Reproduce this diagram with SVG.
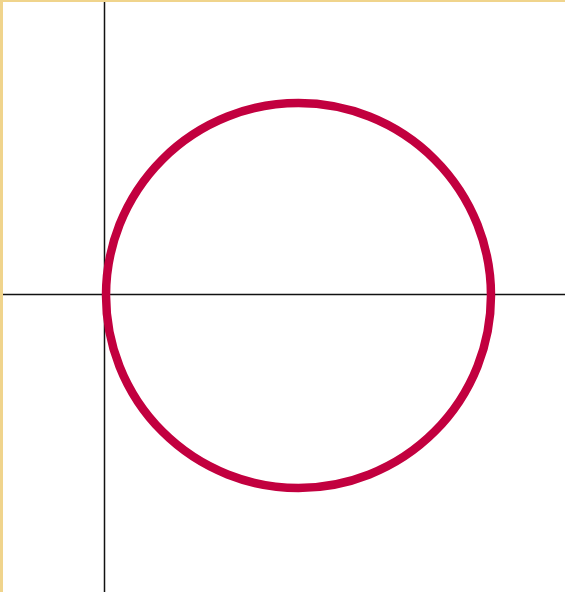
<svg xmlns="http://www.w3.org/2000/svg" width="565" height="592" viewBox="0 0 565 592">
<style>
.axis{stroke:#111;stroke-width:1.5;fill:none}
.circ{stroke:#c2003f;stroke-width:8.5;fill:none}
</style>
<rect x="0" y="0" width="565" height="592" fill="#f0d48c"/>
<rect x="3" y="2" width="562" height="590" fill="#ffffff"/>
<g id="axes">
<line class="axis" x1="104.5" y1="2" x2="104.5" y2="592"/>
<line class="axis" x1="3" y1="294.5" x2="565" y2="294.5"/>
</g>
<g id="circle">
<circle class="circ" cx="298.5" cy="295.5" r="192.5"/>
</g>
</svg>
